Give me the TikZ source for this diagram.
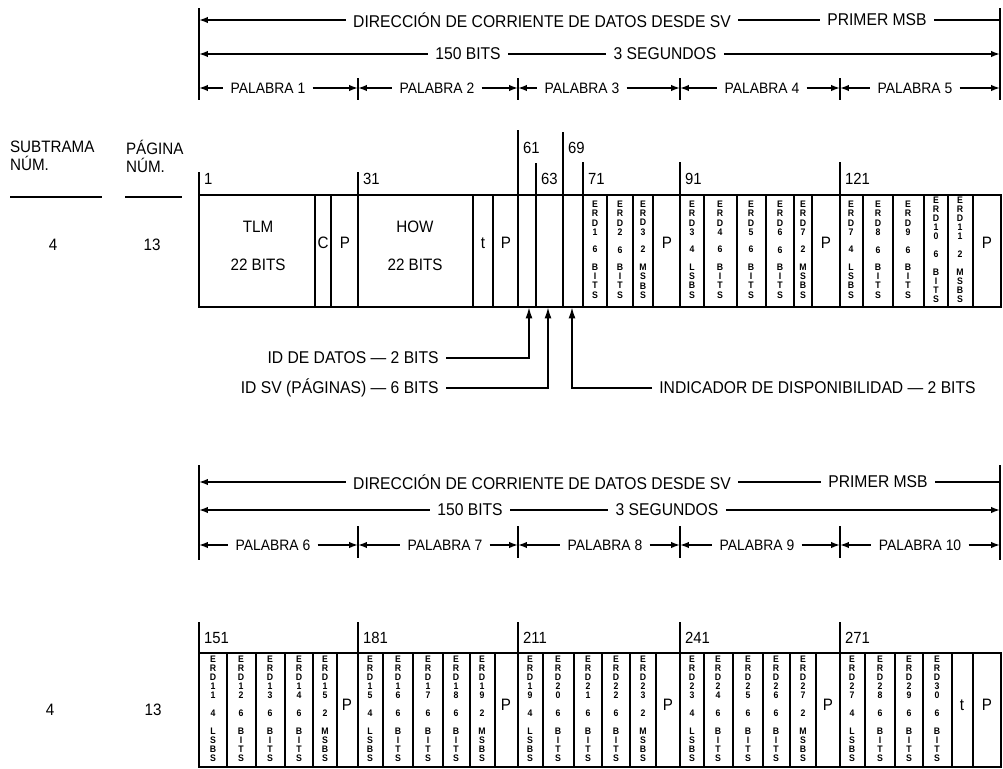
\documentclass[tikz,border=0pt]{standalone}
\usepackage{fontspec}
\setmainfont{Liberation Sans}[FakeStretch=0.92]
\usetikzlibrary{arrows.meta}

% letras apiladas en vertical (una por renglon)
\makeatletter
\newcommand{\vlab}[1]{\begin{tabular}{@{}c@{}}\expandafter\vlab@first#1\relax\end{tabular}}
\def\vlab@first#1{#1\vlab@rest}
\def\vlab@rest#1{\ifx#1\relax\expandafter\@gobble\else\expandafter\@firstofone\fi{\\#1\vlab@rest}}
\makeatother

\begin{document}
\begin{tikzpicture}[x=0.02cm, y=-0.02cm,
    hdr/.style={inner sep=4pt, font=\fontsize{9.7}{11}\selectfont},
    wordlbl/.style={inner sep=4pt, font=\fontsize{8.6}{10}\selectfont},
    txt/.style={inner sep=1pt, font=\fontsize{9.4}{10.3}\selectfont},
    bitno/.style={anchor=west, inner sep=1pt, font=\fontsize{9.2}{11}\selectfont},
    erd/.style={inner sep=0pt, font=\fontsize{5.4}{4.9}\selectfont\bfseries},
    dimline/.style={line width=0.9pt, >={Latex[length=5pt,width=3.6pt]}},
    barline/.style={line width=0.9pt},
    wordbox/.style={line width=0.9pt},
    colsep/.style={line width=0.6pt},
    ptr/.style={line width=1pt, -{Latex[length=6.5pt,width=4pt]}},
    ulin/.style={line width=1.1pt}]

    \useasboundingbox (0,0) rectangle (1003,768);

    % Encabezado superior
    \coordinate (hAt) at (199,8);
    \coordinate (hAb) at (199,100);
    \coordinate (hBt) at (1000,8);
    \coordinate (hBb) at (1000,100);
    \draw[barline] (hAt) -- (hAb);
    \draw[barline] (hBt) -- (hBb);
    \node[hdr] (dirA) at (542,20) {DIRECCIÓN DE CORRIENTE DE DATOS DESDE SV};
    \node[hdr] (msbA) at (877,20) {PRIMER MSB};
    \draw[dimline,<-] (hAt |- dirA) -- (dirA);
    \draw[dimline] (dirA) -- (msbA);
    \draw[dimline] (msbA) -- (hBt |- msbA);
    \node[hdr] (bitsA) at (468,54) {150 BITS};
    \node[hdr] (segA) at (665,54) {3 SEGUNDOS};
    \draw[dimline,<-] (hAt |- bitsA) -- (bitsA);
    \draw[dimline] (bitsA) -- (segA);
    \draw[dimline,->] (segA) -- (hBt |- segA);
    \foreach \n/\xa/\xm/\xb in {1/199/268/358, 2/358/437/518, 3/518/582/680, 4/680/762/840, 5/840/915/1000}{
        \node[wordlbl] (palA\n) at (\xm,88) {PALABRA \n};
        \coordinate (palAl\n) at (\xa,88);
        \coordinate (palAr\n) at (\xb,88);
        \draw[dimline,<-] (palAl\n) -- (palA\n);
        \draw[dimline,->] (palA\n) -- (palAr\n);
    }
    \foreach \x in {358,518,680,840} \draw[barline] (\x,78) -- (\x,100);

    % Columnas de la izquierda
    \node[txt, anchor=west, align=left] (subt) at (8,156) {SUBTRAMA\\NÚM.};
    \node[txt, anchor=west, align=left] (pag) at (124,156) {PÁGINA\\NÚM.};
    \draw[ulin] (10,197) -- (102,197);
    \draw[ulin] (125,197) -- (182,197);
    \node[txt] (subA) at (53,245) {4};
    \node[txt] (pagA) at (152,245) {13};
    \node[txt] (subB) at (50,710) {4};
    \node[txt] (pagB) at (153,710) {13};

    % Fila 1: palabras 1 a 5
    \draw[wordbox] (199,195) rectangle (1001,307);
    \foreach \x in {315,331,358,473,493,518,536,563,583,607,633,653,680,704,737,766,794,812,840,863,893,924,948,973}
        \draw[colsep] (\x,195) -- (\x,307);
    \draw[colsep] (199,172) -- (199,195);
    \draw[colsep] (358,172) -- (358,195);
    \draw[colsep] (518,130) -- (518,195);
    \draw[colsep] (536,163) -- (536,195);
    \draw[colsep] (563,132) -- (563,195);
    \foreach \x in {583,680,840} \draw[colsep] (\x,162) -- (\x,195);
    \node[bitno] (b1) at (202,179) {1};
    \node[bitno] (b31) at (361,179) {31};
    \node[bitno] (b61) at (521,148) {61};
    \node[bitno] (b63) at (539,179) {63};
    \node[bitno] (b69) at (566,148) {69};
    \node[bitno] (b71) at (586,179) {71};
    \node[bitno] (b91) at (683,179) {91};
    \node[bitno] (b121) at (843,179) {121};

    \node[txt] (tlm) at (258,227) {TLM};
    \node[txt] (tlmb) at (258,265) {22 BITS};
    \node[txt] (cA) at (323,243) {C};
    \node[txt] (pA1) at (345,243) {P};
    \node[txt] (how) at (415,227) {HOW};
    \node[txt] (howb) at (415,265) {22 BITS};
    \node[txt] (tA) at (483,243) {t};
    \node[txt] (pA2) at (506,243) {P};
    \node[txt] (pA3) at (667,243) {P};
    \node[txt] (pA4) at (826,243) {P};
    \node[txt] (pA5) at (987,243) {P};
    \foreach \x/\t [count=\k] in {595/ERD1~6~BITS, 620/ERD2~6~BITS, 643/ERD3~2~MSBS,
        692/ERD3~4~LSBS, 720/ERD4~6~BITS, 751/ERD5~6~BITS, 780/ERD6~6~BITS, 803/ERD7~2~MSBS,
        851/ERD7~4~LSBS, 878/ERD8~6~BITS, 908/ERD9~6~BITS, 936/ERD10~6~BITS, 960/ERD11~2~MSBS}
        \node[erd] (erdA\k) at (\x,251) {\vlab{\t}};

    % Campos de identificacion
    \coordinate (didB) at (529,307);
    \coordinate (svB) at (548,307);
    \coordinate (avB) at (572,307);
    \node[hdr, anchor=east] (iddat) at (446,358) {ID DE DATOS — 2 BITS};
    \node[hdr, anchor=east] (idsv) at (446,388) {ID SV (PÁGINAS) — 6 BITS};
    \node[hdr, anchor=west] (indic) at (652,388) {INDICADOR DE DISPONIBILIDAD — 2 BITS};
    \draw[ptr] (iddat.east) -| (didB);
    \draw[ptr] (idsv.east) -| (svB);
    \draw[ptr] (indic.west) -| (avB);

    % Encabezado inferior
    \coordinate (hCt) at (199,465);
    \coordinate (hCb) at (199,560);
    \coordinate (hDt) at (1000,465);
    \coordinate (hDb) at (1000,560);
    \draw[barline] (hCt) -- (hCb);
    \draw[barline] (hDt) -- (hDb);
    \node[hdr] (dirB) at (542,482) {DIRECCIÓN DE CORRIENTE DE DATOS DESDE SV};
    \node[hdr] (msbB) at (878,482) {PRIMER MSB};
    \draw[dimline,<-] (hCt |- dirB) -- (dirB);
    \draw[dimline] (dirB) -- (msbB);
    \draw[dimline] (msbB) -- (hDt |- msbB);
    \node[hdr] (bitsB) at (470,510) {150 BITS};
    \node[hdr] (segB) at (667,510) {3 SEGUNDOS};
    \draw[dimline,<-] (hCt |- bitsB) -- (bitsB);
    \draw[dimline] (bitsB) -- (segB);
    \draw[dimline,->] (segB) -- (hDt |- segB);
    \foreach \n/\xa/\xm/\xb in {6/199/273/358, 7/358/445/518, 8/518/605/680, 9/680/757/840, 10/840/920/1000}{
        \node[wordlbl] (palB\n) at (\xm,545) {PALABRA \n};
        \coordinate (palBl\n) at (\xa,545);
        \coordinate (palBr\n) at (\xb,545);
        \draw[dimline,<-] (palBl\n) -- (palB\n);
        \draw[dimline,->] (palB\n) -- (palBr\n);
    }
    \foreach \x in {358,518,680,840} \draw[barline] (\x,526) -- (\x,558);

    % Fila 2: palabras 6 a 10
    \draw[wordbox] (199,653) rectangle (1001,767);
    \foreach \x in {227,256,285,313,337,358,383,413,443,470,495,518,543,574,602,630,656,680,704,733,763,790,816,840,865,895,923,952,973}
        \draw[colsep] (\x,653) -- (\x,767);
    \foreach \x in {199,358,518,680,840} \draw[colsep] (\x,622) -- (\x,653);
    \node[bitno] (b151) at (202,638) {151};
    \node[bitno] (b181) at (361,638) {181};
    \node[bitno] (b211) at (521,638) {211};
    \node[bitno] (b241) at (683,638) {241};
    \node[bitno] (b271) at (843,638) {271};

    \node[txt] (pB6) at (347,705) {P};
    \node[txt] (pB7) at (506,705) {P};
    \node[txt] (pB8) at (668,705) {P};
    \node[txt] (pB9) at (828,705) {P};
    \node[txt] (tB) at (962,705) {t};
    \node[txt] (pB10) at (987,705) {P};
    \foreach \x/\t [count=\k] in {213/ERD11~4~LSBS, 241/ERD12~6~BITS, 270/ERD13~6~BITS, 299/ERD14~6~BITS, 325/ERD15~2~MSBS,
        370/ERD15~4~LSBS, 398/ERD16~6~BITS, 428/ERD17~6~BITS, 456/ERD18~6~BITS, 482/ERD19~2~MSBS,
        530/ERD19~4~LSBS, 558/ERD20~6~BITS, 588/ERD21~6~BITS, 616/ERD22~6~BITS, 643/ERD23~2~MSBS,
        692/ERD23~4~LSBS, 718/ERD24~6~BITS, 748/ERD25~6~BITS, 776/ERD26~6~BITS, 803/ERD27~2~MSBS,
        852/ERD27~4~LSBS, 880/ERD28~6~BITS, 909/ERD29~6~BITS, 937/ERD30~6~BITS}
        \node[erd] (erdB\k) at (\x,710) {\vlab{\t}};
\end{tikzpicture}
\end{document}
